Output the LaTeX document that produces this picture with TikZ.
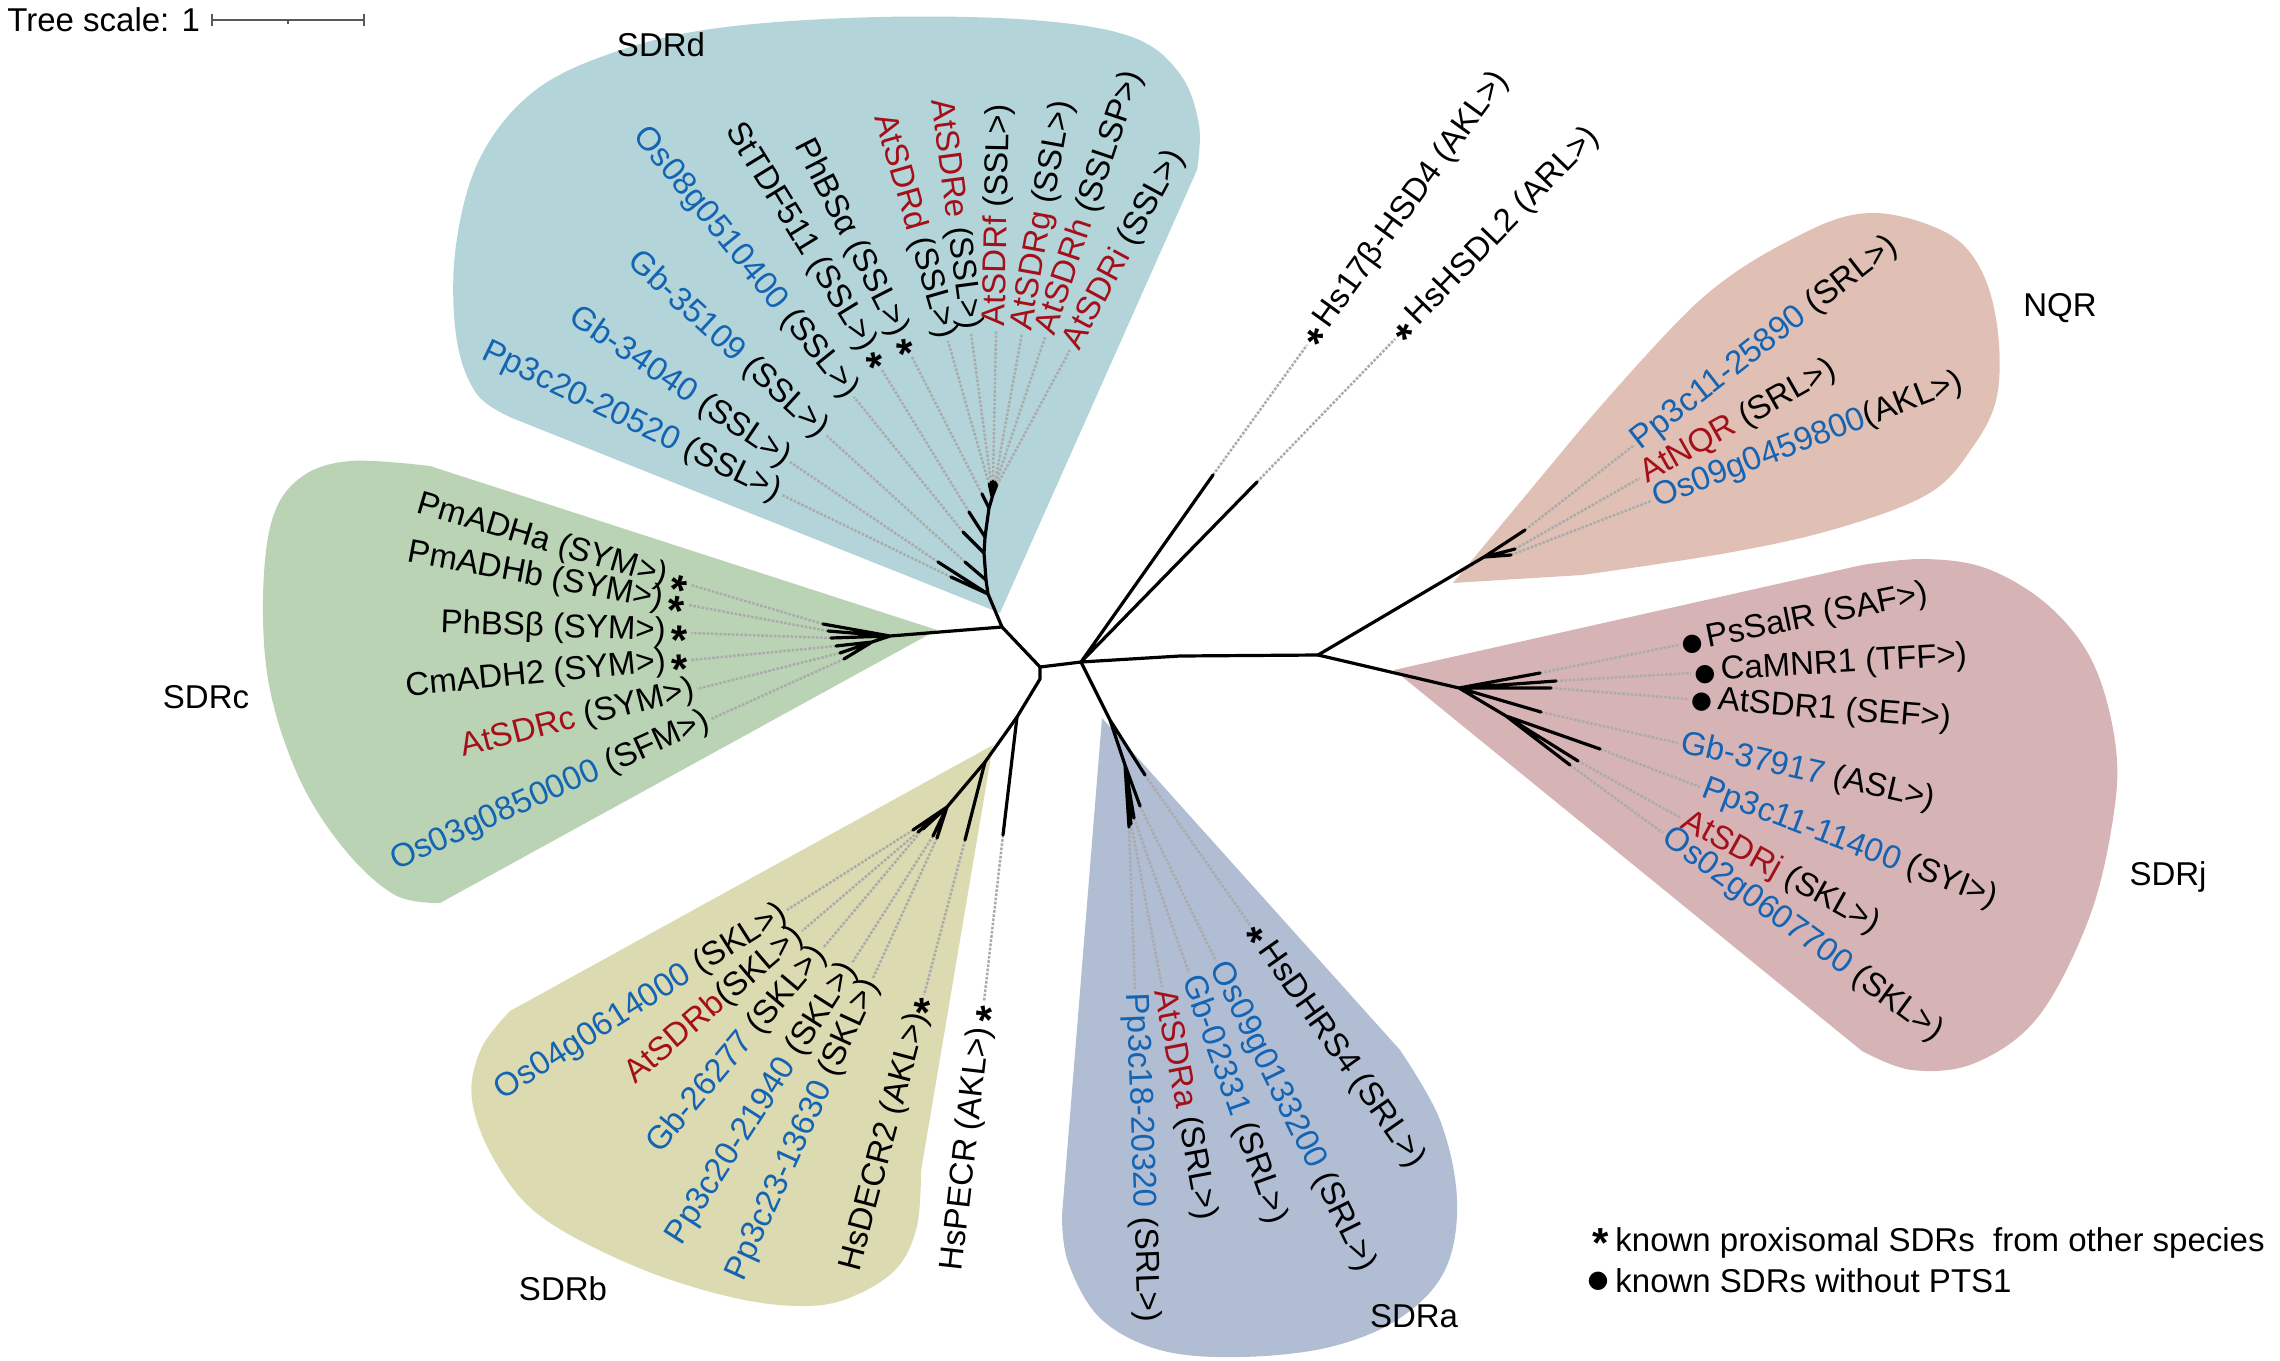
\documentclass[tikz,border=0pt]{standalone}
\usepackage{fontspec}
\setmainfont{Liberation Sans}
\newfontfamily\symfont{DejaVu Sans}
\usetikzlibrary{calc}
\usetikzlibrary{positioning}
\definecolor{idblue}{RGB}{20,100,180}
\definecolor{atred}{RGB}{165,15,25}
\definecolor{sdrdbg}{RGB}{179,213,217}
\definecolor{sdrcbg}{RGB}{186,211,181}
\definecolor{sdrbbg}{RGB}{220,218,177}
\definecolor{sdrabg}{RGB}{177,189,211}
\definecolor{sdrjbg}{RGB}{214,180,182}
\definecolor{nqrbg}{RGB}{224,192,180}
\tikzset{x=0.5pt, y=-0.5pt, font=\fontsize{16.5}{19}\selectfont}
\tikzstyle{branch} = [line width=1.6pt, line cap=round, line join=round]
\tikzstyle{leaf} = [line width=1.25pt, black!33, dash pattern=on 1.3pt off 0.8pt]
\tikzstyle{inlab} = [anchor=east, inner sep=1.5pt]
\tikzstyle{outlab} = [anchor=west, inner sep=1.5pt]
\tikzstyle{scalebar} = [line width=1pt, black!65]
\newcommand{\bl}[1]{\textcolor{idblue}{#1}}
\newcommand{\rd}[1]{\textcolor{atred}{#1}}
\newcommand{\pst}{\smash{\raisebox{-7pt}{\fontsize{21}{21}\selectfont\bfseries *}}}
\newcommand{\dotk}{{\symfont\fontsize{12}{12}\selectfont ●}}

\begin{document}
\begin{tikzpicture}
	\useasboundingbox (0,0) rectangle (2280,1360);

	% clade backgrounds
	\fill[sdrdbg] (1000,613) -- plot[smooth, tension=0.6] coordinates {(1197,170) (1199,125) (1180,74) (1132,37) (1032,20) (879,17) (726,27) (624,49) (537,89) (481,156) (456,245) (456,335) (476,393) (512,418)} -- cycle;
	\fill[sdrcbg] (937,630) -- plot[smooth, tension=0.6] coordinates {(430,466) (350,461) (300,478) (272,520) (263,600) (270,690) (300,780) (345,850) (395,895) (440,903)} -- cycle;
	\fill[sdrbbg] (993,745) -- plot[smooth, tension=0.6] coordinates {(510,1011) (481,1049) (472,1100) (496,1163) (543,1218) (639,1268) (735,1298) (807,1306) (854,1296) (897,1268) (917,1226) (921,1171)} -- cycle;
	\fill[sdrabg] (1102,718) -- plot[smooth, tension=0.6] coordinates {(1400,1050) (1440,1120) (1457,1200) (1445,1270) (1400,1318) (1330,1347) (1240,1357) (1160,1350) (1100,1318) (1068,1262) (1062,1215)} -- cycle;
	\fill[sdrjbg] (1394,670) -- plot[smooth, tension=0.6] coordinates {(1862,565) (1925,559) (1988,569) (2050,607) (2094,665) (2116,749) (2112,825) (2088,921) (2038,1017) (1975,1063) (1912,1070) (1862,1051)} -- cycle;
	\fill[nqrbg] (1453,583) -- plot[smooth, tension=0.6] coordinates {(1580,430) (1700,300) (1800,235) (1871,213) (1943,231) (1979,266) (1997,325) (1997,396) (1972,448) (1928,494) (1835,529) (1727,553) (1582,575)} -- cycle;

	% tree scale
	\node [anchor=west, inner sep=1.5pt] (tscale) at (4,20) {Tree scale: 1};
	\coordinate (sb1) at (212,20);
	\coordinate (sb2) at (364,20);
	\coordinate (sbm) at (288,20);
	\draw [scalebar] (sb1) -- (sb2);
	\draw [scalebar] (sb1) ++(0,-6) -- ++(0,12);
	\draw [scalebar] (sb2) ++(0,-6) -- ++(0,12);
	\draw [scalebar, line width=0.6pt] (sbm) -- ++(0,4);

	% clade names
	\node (nsdrd) at (661,45) {SDRd};
	\node (nsdrc) at (206,697) {SDRc};
	\node (nsdrb) at (563,1289) {SDRb};
	\node (nsdra) at (1414,1316) {SDRa};
	\node (nsdrj) at (2168,877) {SDRj};
	\node (nnqr) at (2060,308) {NQR};

	% leaves, names read towards the tree
	\foreach \tx/\ty/\ex/\ey/\lab [count=\i] in {
		951/577/782/495/{\bl{Pp3c20-20520} (SSL>)},
		938/562/790/462/{\bl{Gb-34040} (SSL>)},
		965/562/826/435/{\bl{Gb-35109} (SSL>)},
		963/532/854/397/{\bl{Os08g0510400} (SSL>)},
		969/512/882/370/{StTDF511 (SSL>)\,\pst},
		982/494/912/357/{PhBSα (SSL>)\,\pst},
		989/484/948/341/{\rd{AtSDRd} (SSL>)},
		991/482/971/333/{\rd{AtSDRe} (SSL>)}}{
		\draw [leaf] (\tx,\ty) coordinate (dt\i) -- (\ex,\ey) coordinate (de\i);
		\path let \p1=($(de\i)-(dt\i)$), \n1={atan2(\y1,\x1)} in
			node [inlab, rotate=\n1+180] (dn\i) at (de\i) {\lab};
	}
	\foreach \tx/\ty/\ex/\ey/\lab [count=\i] in {
		823/624/691/585/{PmADHa (SYM>)\,\pst},
		828/631/688/605/{PmADHb (SYM>)\,\pst},
		831/638/691/633/{PhBSβ (SYM>)\,\pst},
		836/646/691/660/{CmADH2 (SYM>)\,\pst},
		840/653/697/689/{\rd{AtSDRc} (SYM>)},
		844/659/711/719/{\bl{Os03g0850000} (SFM>)}}{
		\draw [leaf] (\tx,\ty) coordinate (ct\i) -- (\ex,\ey) coordinate (ce\i);
		\path let \p1=($(ce\i)-(ct\i)$), \n1={atan2(\y1,\x1)} in
			node [inlab, rotate=\n1+180] (cn\i) at (ce\i) {\lab};
	}
	\foreach \tx/\ty/\ex/\ey/\lab [count=\i] in {
		913/830/787/910/{\bl{Os04g0614000} (SKL>)},
		918/832/802/931/{\rd{AtSDRb}(SKL>)},
		923/829/823/948/{\bl{Gb-26277} (SKL>)},
		933/836/852/963/{\bl{Pp3c20-21940} (SKL>)},
		937/838/873/978/{\bl{Pp3c23-13630} (SKL>)},
		965/840/924/995/{HsDECR2 (AKL>)\pst},
		1003/835/984/1002/{HsPECR (AKL>)\,\pst}}{
		\draw [leaf] (\tx,\ty) coordinate (bt\i) -- (\ex,\ey) coordinate (be\i);
		\path let \p1=($(be\i)-(bt\i)$), \n1={atan2(\y1,\x1)} in
			node [inlab, rotate=\n1+180] (bn\i) at (be\i) {\lab};
	}

	% leaves, names read away from the tree
	\foreach \tx/\ty/\ex/\ey/\lab [count=\i] in {
		993/481/996/330/{\rd{AtSDRf} (SSL>)},
		995/482/1022/333/{\rd{AtSDRg} (SSL>)},
		996/483/1045/337/{\rd{AtSDRh} (SSLSP>)},
		997/485/1070/350/{\rd{AtSDRi} (SSL>)}}{
		\draw [leaf] (\tx,\ty) coordinate (et\i) -- (\ex,\ey) coordinate (ee\i);
		\path let \p1=($(ee\i)-(et\i)$), \n1={atan2(\y1,\x1)} in
			node [outlab, rotate=\n1] (en\i) at (ee\i) {\lab};
	}
	\foreach \tx/\ty/\ex/\ey/\lab [count=\i] in {
		1129/827/1135/990/{\bl{Pp3c18-20320} (SRL>)},
		1131/824/1162/987/{\rd{AtSDRa} (SRL>)},
		1134/818/1189/973/{\bl{Gb-02331} (SRL>)},
		1140/806/1216/961/{\bl{Os09g0133200} (SRL>)},
		1145/775/1250/925/{\pst\,HsDHRS4 (SRL>)}}{
		\draw [leaf] (\tx,\ty) coordinate (at\i) -- (\ex,\ey) coordinate (ae\i);
		\path let \p1=($(ae\i)-(at\i)$), \n1={atan2(\y1,\x1)} in
			node [outlab, rotate=\n1] (an\i) at (ae\i) {\lab};
	}
	\foreach \tx/\ty/\ex/\ey/\lab [count=\i] in {
		1525/530/1633/446/{\bl{Pp3c11-25890} (SRL>)},
		1515/549/1640/478/{\rd{AtNQR} (SRL>)},
		1511/555/1651/501/{\bl{Os09g0459800}(AKL>)}}{
		\draw [leaf] (\tx,\ty) coordinate (nt\i) -- (\ex,\ey) coordinate (ne\i);
		\path let \p1=($(ne\i)-(nt\i)$), \n1={atan2(\y1,\x1)} in
			node [outlab, rotate=\n1] (nn\i) at (ne\i) {\lab};
	}
	\foreach \tx/\ty/\ex/\ey/\lab [count=\i] in {
		1540/673/1678/645/{\dotk\,PsSalR (SAF>)},
		1556/681/1691/673/{\dotk\,CaMNR1 (TFF>)},
		1551/688/1688/699/{\dotk\,AtSDR1 (SEF>)},
		1541/712/1678/743/{\bl{Gb-37917} (ASL>)},
		1600/749/1700/787/{\bl{Pp3c11-11400} (SYI>)},
		1578/761/1681/818/{\rd{AtSDRj} (SKL>)},
		1570/765/1663/833/{\bl{Os02g0607700} (SKL>)}}{
		\draw [leaf] (\tx,\ty) coordinate (jt\i) -- (\ex,\ey) coordinate (je\i);
		\path let \p1=($(je\i)-(jt\i)$), \n1={atan2(\y1,\x1)} in
			node [outlab, rotate=\n1] (jn\i) at (je\i) {\lab};
	}
	\foreach \tx/\ty/\ex/\ey/\lab [count=\i] in {
		1213/475/1307/345/{\pst\,Hs17β-HSD4 (AKL>)},
		1257/482/1395/339/{\pst\,HsHSDL2 (ARL>)}}{
		\draw [leaf] (\tx,\ty) coordinate (ht\i) -- (\ex,\ey) coordinate (he\i);
		\path let \p1=($(he\i)-(ht\i)$), \n1={atan2(\y1,\x1)} in
			node [outlab, rotate=\n1] (hn\i) at (he\i) {\lab};
	}

	% inner nodes of the tree
	\coordinate (A) at (1002,627);
	\coordinate (B) at (1040,667);
	\coordinate (B2) at (1040,679);
	\coordinate (C) at (1081,662);
	\coordinate (D) at (1017,717);
	\coordinate (G1) at (1180,656);
	\coordinate (G) at (1318,655);
	\coordinate (s1) at (988,594);
	\coordinate (s2) at (986,580);
	\coordinate (s3) at (984,553);
	\coordinate (s4) at (985,537);
	\coordinate (s5) at (989,508);
	\coordinate (s6) at (992,498);
	\coordinate (cn) at (890,636);
	\coordinate (c2) at (872,642);
	\coordinate (E) at (985,762);
	\coordinate (F) at (947,807);
	\coordinate (a1) at (1110,720);
	\coordinate (a2) at (1125,765);
	\coordinate (N1) at (1484,557);
	\coordinate (H) at (1459,688);
	\coordinate (h2) at (1506,716);

	% branches
	\draw [branch] (A) -- (B) -- (C) -- (G1) -- (G);
	\draw [branch] (B) -- (B2) -- (D) -- (E) -- (F);
	\draw [branch] (A) -- (s1) -- (s2) -- (s3) -- (s4) -- (s5) -- (s6);
	\draw [branch] (s1) -- (dt1) (s1) -- (dt2) (s2) -- (dt3) (s3) -- (dt4) (s4) -- (dt5) (s5) -- (dt6);
	\draw [branch, line width=1.3pt] (s6) -- (dt7) (s6) -- (dt8) (s6) -- (et1) (s6) -- (et2) (s6) -- (et3) (s6) -- (et4);
	\draw [branch] (A) -- (cn) -- (ct1) (cn) -- (ct2) (cn) -- (ct3) (cn) -- (c2) -- (ct4) (c2) -- (ct5) (c2) -- (ct6);
	\draw [branch] (F) -- (bt1) (F) -- (bt2) (F) -- (bt3) (F) -- (bt4) (F) -- (bt5) (E) -- (bt6) (D) -- (bt7);
	\draw [branch] (C) -- (a1) -- (a2) -- (at1) (a2) -- (at2) (a2) -- (at3) (a2) -- (at4) (a1) -- (at5);
	\draw [branch] (C) -- (ht1) (C) -- (ht2);
	\draw [branch] (G) -- (N1) -- (nt1) (N1) -- (nt2) (N1) -- (nt3);
	\draw [branch] (G) -- (H) -- (jt1) (H) -- (jt2) (H) -- (jt3) (H) -- (jt4) (H) -- (h2) -- (jt5) (h2) -- (jt6) (h2) -- (jt7);

	% legend
	\node [anchor=west, inner sep=1.5pt] (lg1) at (1612,1243) {known proxisomal SDRs\ \ from other species};
	\node [anchor=west, inner sep=1.5pt] (lg2) at (1612,1281) {known SDRs without PTS1};
	\node [left=0pt of lg1, inner sep=1.5pt] (lgs) {\pst};
	\node [left=0pt of lg2, inner sep=1.5pt] (lgd) {\dotk};
\end{tikzpicture}
\end{document}
